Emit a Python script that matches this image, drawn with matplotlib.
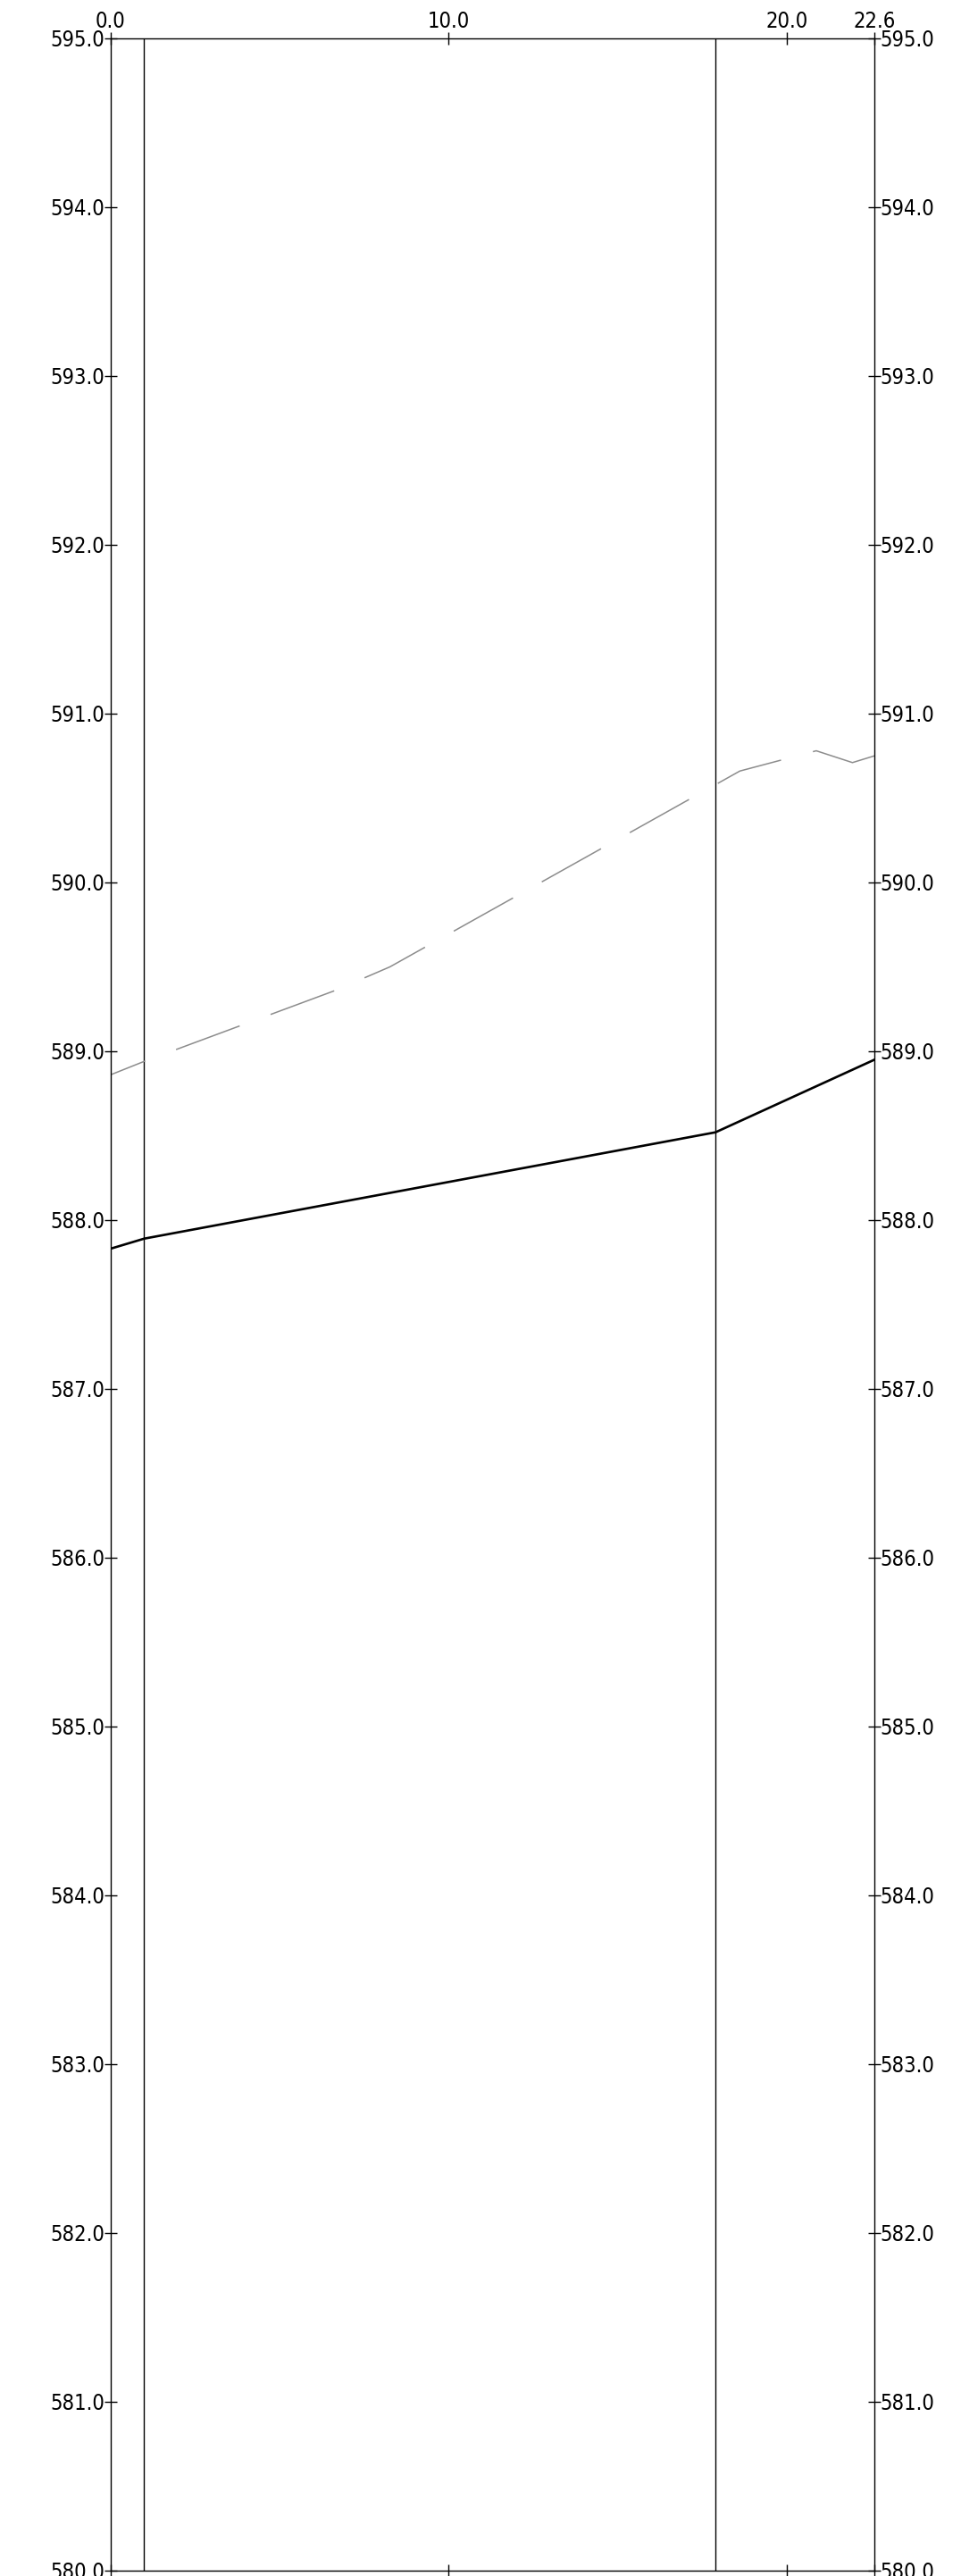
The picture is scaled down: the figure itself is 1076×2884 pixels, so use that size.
import matplotlib
matplotlib.use("Agg")
import matplotlib.pyplot as plt

# profile data
x_ticks = [0.0, 10.0, 20.0, 22.6]
y_ticks = [580.0 + i for i in range(16)]
section_x = [1.0, 17.9]

# solid black line (design level)
line_x = [0.0, 1.0, 17.9, 22.6]
line_y = [587.83, 587.89, 588.52, 588.95]

# grey dashed line (existing ground)
ground_x = [0.0, 1.0, 6.65, 8.27, 18.62, 20.88, 21.95, 22.6]
ground_y = [588.86, 588.94, 589.36, 589.50, 590.66, 590.78, 590.71, 590.75]

plt.rcParams['font.family'] = ['DejaVu Sans']
plt.rcParams['font.stretch'] = 'condensed'
plt.rcParams['lines.scale_dashes'] = False

fig = plt.figure(figsize=(10.76, 28.84), dpi=100)
ax = fig.add_axes([0.1148, 0.0021, 0.7951, 0.9830])

for xs in section_x:
    ax.axvline(xs, color='black', lw=1.0)

ax.plot(ground_x, ground_y, color='#8c8c8c', lw=1.1,
        linestyle=(24.5, (54.7, 26.6)))
ax.plot(line_x, line_y, color='black', lw=1.9)

ax.set_xlim(0, 22.6)
ax.set_ylim(580, 595)
ax.set_xticks(x_ticks)
ax.set_xticklabels(['%.1f' % v for v in x_ticks])
ax.set_yticks(y_ticks)
ax.set_yticklabels(['%.1f' % v for v in y_ticks])

ax.tick_params(axis='both', direction='inout', length=9.4, width=1.0,
               labelsize=17, pad=0)
ax.tick_params(axis='x', top=True, bottom=True, labeltop=True, labelbottom=False)
ax.tick_params(axis='y', left=True, right=True, labelleft=True, labelright=True)

for sp in ax.spines.values():
    sp.set_linewidth(1.0)
    sp.set_color('black')

fig.savefig('out.png', dpi=100)
